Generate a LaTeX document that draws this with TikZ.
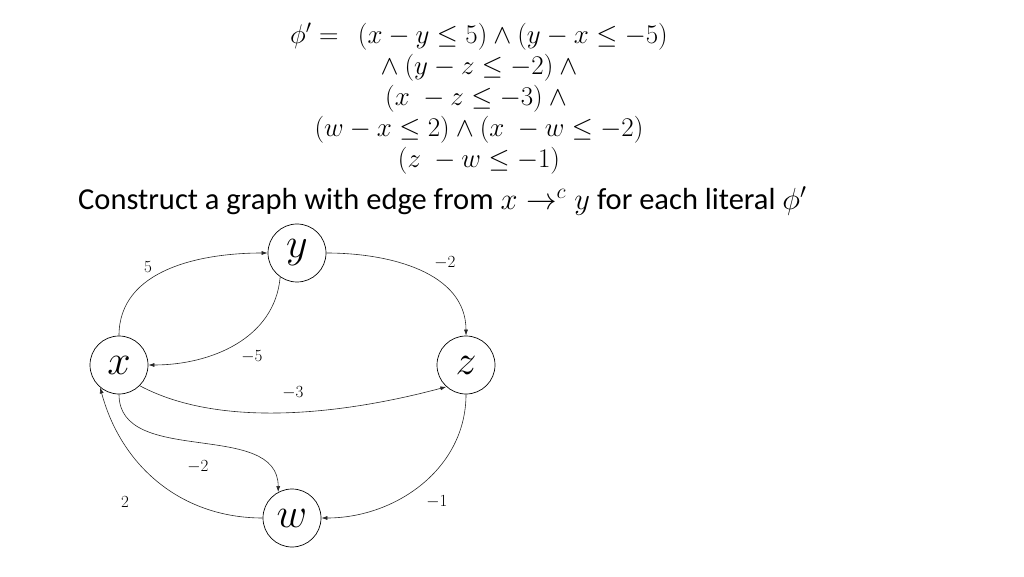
\RequirePackage{fix-cm}
\documentclass[tikz,border=0pt]{standalone}
\usepackage{amsmath,amssymb}
\usepackage{fontspec}
\setmainfont{Carlito}
\usetikzlibrary{arrows.meta,positioning}

\begin{document}
\begin{tikzpicture}[x=1pt,y=1pt,
  vertex/.style={draw,circle,minimum size=58pt,inner sep=0pt,line width=0.7pt,font=\fontsize{42}{42}\selectfont},
  weight/.style={font=\fontsize{17}{17}\selectfont},
  edge/.style={-{Latex[length=6pt,width=4pt]},line width=0.6pt,black!85}]
\useasboundingbox (0,0) rectangle (1024,576);
\node[align=center,font=\fontsize{27}{31}\selectfont] (formula) at (479,477)
  {$\phi' =\;\, (x - y \le 5) \wedge (y - x \le -5)$\\
   ${}\wedge (y - z \le -2) \wedge{}$\\
   $(x\; - z \le -3) \wedge{}$\\
   $(w - x \le 2) \wedge (x\; - w \le -2)$\\
   $(z\; - w \le -1)$};
\node[anchor=base west,inner sep=0pt,font=\fontsize{30.5}{30.5}\selectfont] (caption) at (78,366)
  {Construct a graph with edge from $x \rightarrow^{c} y$ for each literal $\phi'$};
\node[vertex] (y) at (297,323) {$y$};
\node[vertex] (x) at (119,211) {$x$};
\node[vertex] (z) at (466,211) {$z$};
\node[vertex] (w) at (292,58) {$w$};
\draw[edge] (x.north) to[out=90,in=180] (y.west);
\draw[edge] (y.235) to[out=-95,in=0] (x.east);
\draw[edge] (y.east) to[out=0,in=90] (z.north);
\draw[edge] (x.-45) to[out=-28,in=195,looseness=0.8] (z.228);
\draw[edge] (x.south) to[out=-90,in=90] (w.118);
\draw[edge] (w.west) to[out=180,in=-75] (x.230);
\draw[edge] (z.south) to[out=-90,in=0] (w.east);
\node[weight] (l5) at (148,309) {$5$};
\node[weight] (lyz) at (445,313) {$-2$};
\node[weight] (lyx) at (252,219) {$-5$};
\node[weight] (lxz) at (293,183) {$-3$};
\node[weight] (lxw) at (198,109) {$-2$};
\node[weight] (lwx) at (125,74) {$2$};
\node[weight] (lzw) at (437,74) {$-1$};
\end{tikzpicture}
\end{document}
